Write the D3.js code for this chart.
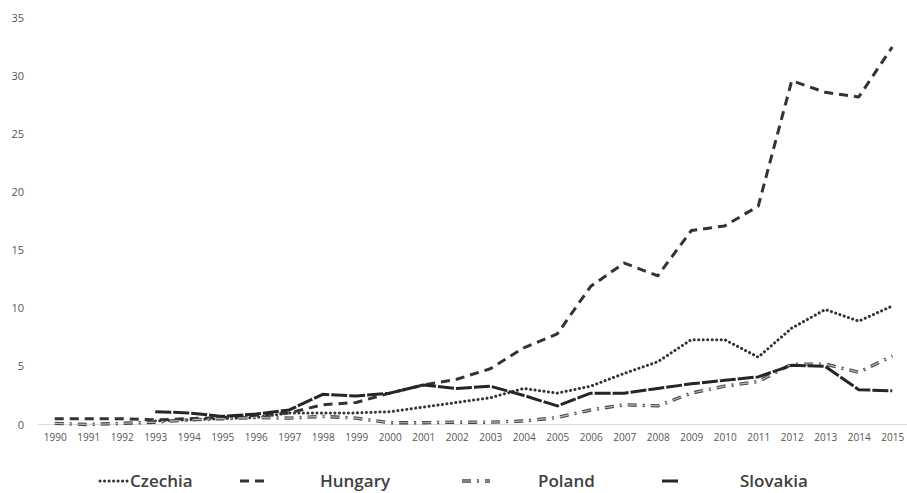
<!DOCTYPE html>
<html>
<head>
<meta charset="utf-8">
<script src="https://cdn.jsdelivr.net/npm/d3@7"></script>
<style>
  body { margin: 0; background: #fff; }
  svg text { font-family: "Open Sans", "Liberation Sans", sans-serif; }
</style>
</head>
<body>
<div id="chart"></div>
<script>
const years = d3.range(1990, 2016).map(String)
const yTicks = [0, 5, 10, 15, 20, 25, 30, 35]

const czechia  = [null, null, null, 0.3, 0.4, 0.5, 0.6, 1.0, 1.0, 1.0, 1.1, 1.5, 1.9, 2.3, 3.1, 2.7, 3.3, 4.4, 5.4, 7.3, 7.3, 5.8, 8.3, 9.9, 8.9, 10.2]
const hungary  = [0.5, 0.5, 0.5, 0.4, 0.5, 0.6, 0.8, 1.0, 1.7, 1.9, 2.7, 3.4, 3.9, 4.8, 6.6, 7.8, 11.9, 13.9, 12.8, 16.7, 17.1, 18.8, 29.6, 28.6, 28.2, 32.5]
const poland   = [0.1, 0.0, 0.1, 0.2, 0.4, 0.5, 0.6, 0.55, 0.7, 0.55, 0.15, 0.15, 0.2, 0.2, 0.3, 0.6, 1.25, 1.7, 1.6, 2.7, 3.3, 3.7, 5.2, 5.2, 4.5, 5.9]
const slovakia = [null, null, null, 1.1, 1.0, 0.7, 0.9, 1.25, 2.6, 2.45, 2.7, 3.4, 3.1, 3.3, 2.5, 1.6, 2.7, 2.7, 3.1, 3.5, 3.8, 4.1, 5.1, 5.0, 3.0, 2.9]

const seriesNames = ['Czechia', 'Hungary', 'Poland', 'Slovakia']
const seriesData = [czechia, hungary, poland, slovakia]

// line looks per series
const styles = [
    { stroke: '#333', width: 3, dash: '0.1,4.4', cap: 'round' },
    { stroke: '#333', width: 3, dash: '9,6', cap: 'butt' },
    { stroke: '#444', width: 3.4, dash: '9,6,2,6', cap: 'butt', inner: '#bbb' },
    { stroke: '#262626', width: 3, dash: '16,2', cap: 'butt' }
]

const width = 907, height = 493
const svg = d3.select('#chart').append('svg')
    .attr('width', width)
    .attr('height', height)

const xScale = d3.scalePoint()
    .domain(years)
    .range([38, 909])
    .padding(0.5)
const yScale = d3.scaleLinear()
    .domain([0, 35])
    .range([424.5, 18])

// baseline
svg.append('line')
    .attr('x1', 38).attr('x2', 907)
    .attr('y1', yScale(0)).attr('y2', yScale(0))
    .attr('stroke', '#d9d9d9')
    .attr('stroke-width', 1)

// y axis labels
svg.append('g')
    .attr('transform', 'translate(24,0)')
    .call(d3.axisLeft(yScale).tickValues(yTicks).tickSize(0).tickPadding(0))
    .call(g => g.select('.domain').remove())
    .selectAll('text')
    .attr('font-size', 11)
    .attr('fill', '#555')
    .style('font-family', '"Open Sans", sans-serif')

// x axis labels
svg.append('g')
    .attr('transform', `translate(0, ${yScale(0) + 9})`)
    .call(d3.axisBottom(xScale).tickSize(0).tickPadding(0))
    .call(g => g.select('.domain').remove())
    .selectAll('text')
    .attr('font-size', 10)
    .attr('fill', '#555')
    .style('font-family', '"Open Sans", sans-serif')

const line = d3.line()
    .defined(d => d != null)
    .x((d, i) => xScale(years[i]))
    .y(d => yScale(d))

const lines = svg.append('g')
seriesData.forEach((vals, i) => {
    const s = styles[i]
    lines.append('path')
        .attr('d', line(vals))
        .attr('fill', 'none')
        .attr('stroke', s.stroke)
        .attr('stroke-width', s.width)
        .attr('stroke-dasharray', s.dash)
        .attr('stroke-linecap', s.cap)
        .attr('stroke-linejoin', 'round')
    if (s.inner) {
        lines.append('path')
            .attr('d', line(vals))
            .attr('fill', 'none')
            .attr('stroke', s.inner)
            .attr('stroke-width', 1.2)
            .attr('stroke-dasharray', s.dash)
    }
})

// legend
const legendPos = [
    { sx: 100, tx: 130 },
    { sx: 240, tx: 320 },
    { sx: 462, tx: 538 },
    { sx: 662, tx: 740 }
]
const legendY = 481
const legend = svg.append('g')
seriesNames.forEach((name, i) => {
    const s = styles[i]
    const p = legendPos[i]
    const sw = i === 0 ? 30 : (i === 3 ? 18 : 28)
    legend.append('line')
        .attr('x1', p.sx).attr('x2', p.sx + sw)
        .attr('y1', legendY).attr('y2', legendY)
        .attr('stroke', s.stroke)
        .attr('stroke-width', s.width)
        .attr('stroke-dasharray', s.dash)
        .attr('stroke-linecap', s.cap)
    if (s.inner) {
        legend.append('line')
            .attr('x1', p.sx).attr('x2', p.sx + sw)
            .attr('y1', legendY).attr('y2', legendY)
            .attr('stroke', s.inner)
            .attr('stroke-width', 1.2)
            .attr('stroke-dasharray', s.dash)
    }
    legend.append('text')
        .attr('x', p.tx)
        .attr('y', legendY)
        .attr('dy', '0.35em')
        .attr('font-size', 17)
        .attr('font-weight', 600)
        .attr('fill', '#404040')
        .text(name)
})
</script>
</body>
</html>
